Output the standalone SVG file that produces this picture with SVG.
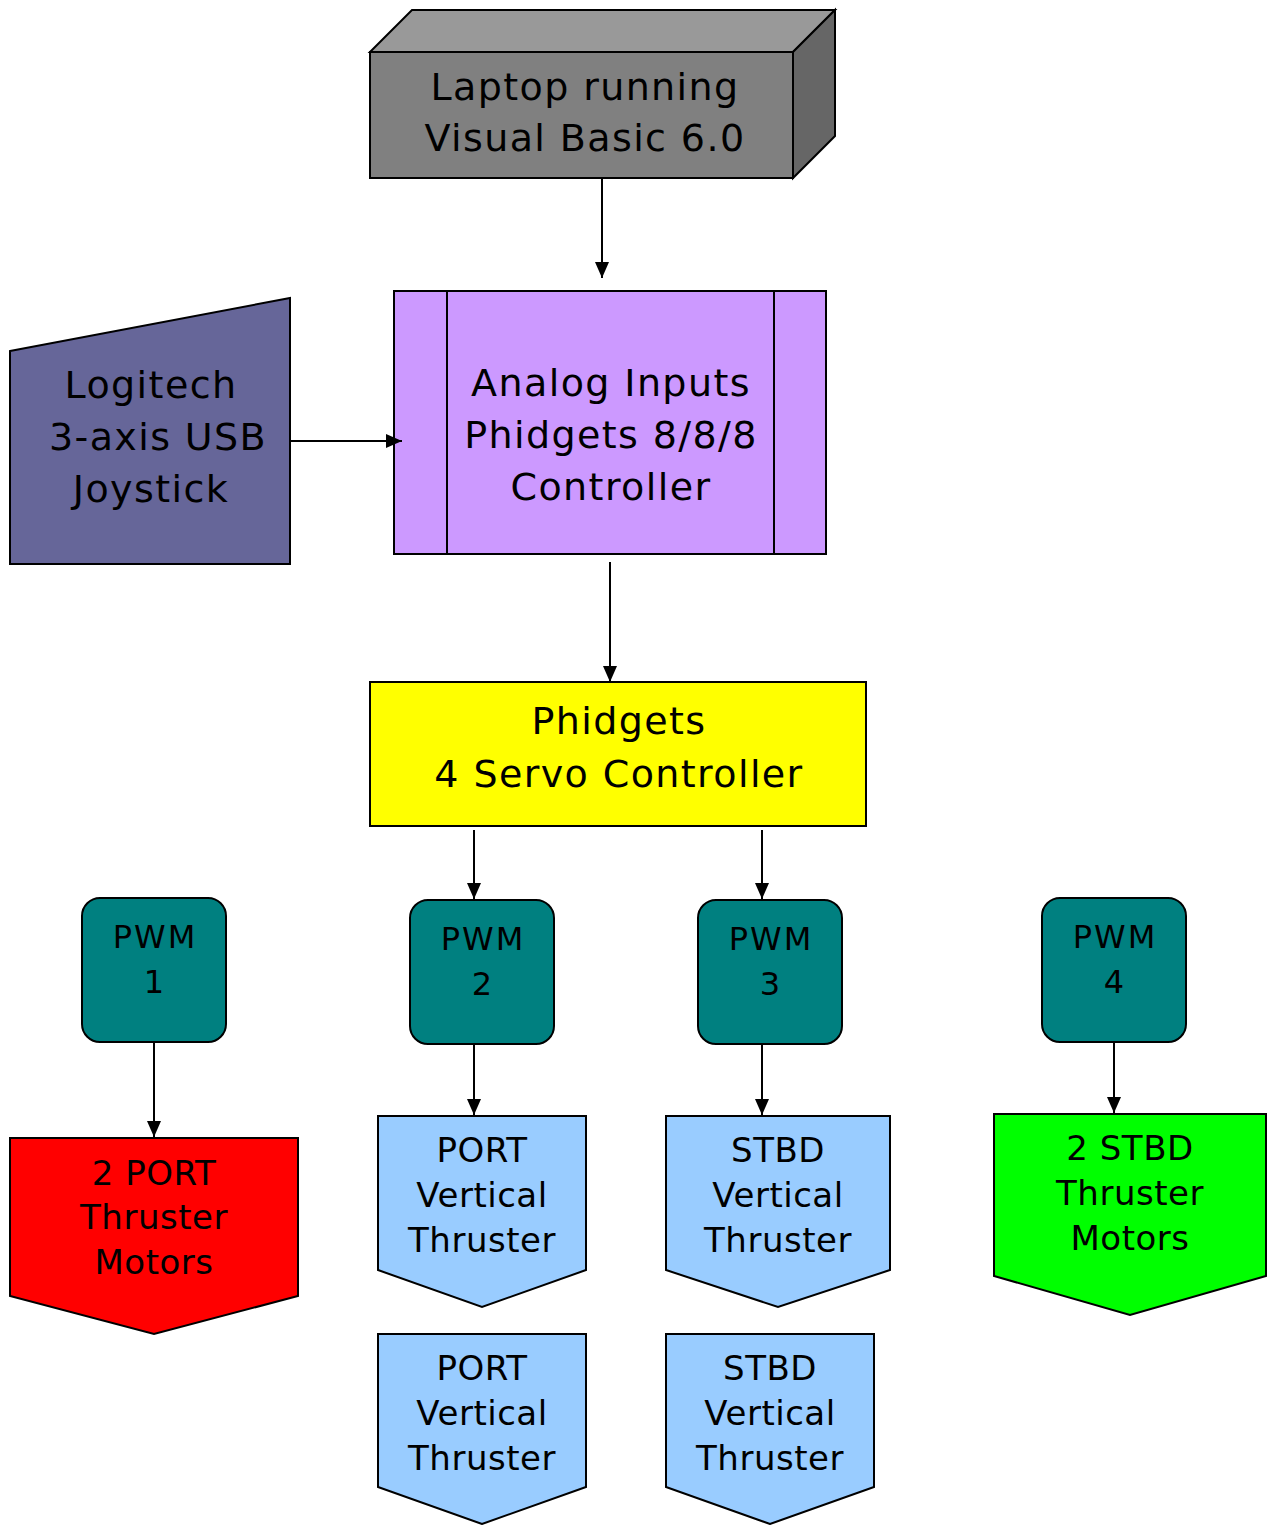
<svg xmlns="http://www.w3.org/2000/svg" width="1273" height="1525" viewBox="0 0 1273 1525">
<style>
.s{stroke:#000;stroke-width:2;stroke-linejoin:miter}
text{font-family:"DejaVu Sans","Liberation Sans",sans-serif;fill:#000;text-anchor:middle}
.L{font-size:38px;letter-spacing:1.4px}
.M{font-size:34px;letter-spacing:0.5px}
.P{font-size:32px;letter-spacing:2px}
.c{stroke:#000;stroke-width:2;fill:none}
</style>
<defs>
<marker id="ah" markerUnits="userSpaceOnUse" markerWidth="16" markerHeight="16" viewBox="0 0 16 16" refX="16" refY="8" orient="auto">
<path d="M0,1 L16,8 L0,15 Z" fill="#000"/>
</marker>
</defs>
<rect width="1273" height="1525" fill="#fff"/>
<g id="laptop">
<polygon class="s" points="370,52 412,10 835,10 793,52" fill="#999999"/>
<polygon class="s" points="793,52 835,10 835,136 793,178" fill="#666666"/>
<rect class="s" x="370" y="52" width="423" height="126" fill="#808080"/>
<text class="L" x="585" y="100">Laptop running</text>
<text class="L" x="585" y="151">Visual Basic 6.0</text>
</g>
<g id="analog">
<rect class="s" x="394" y="291" width="432" height="263" fill="#cc99ff"/>
<line class="s" x1="447" y1="291" x2="447" y2="554"/>
<line class="s" x1="774" y1="291" x2="774" y2="554"/>
<text class="L" x="611" y="396">Analog Inputs</text>
<text class="L" x="611" y="448">Phidgets 8/8/8</text>
<text class="L" x="611" y="500">Controller</text>
</g>
<g id="joystick">
<polygon class="s" points="10,351 290,298 290,564 10,564" fill="#666699"/>
<text class="L" x="151" y="398">Logitech</text>
<text class="L" x="158" y="450">3-axis USB</text>
<text class="L" x="151" y="502">Joystick</text>
</g>
<g id="servo">
<rect class="s" x="370" y="682" width="496" height="144" fill="#ffff00"/>
<text class="L" x="619" y="734">Phidgets</text>
<text class="L" x="619" y="787">4 Servo Controller</text>
</g>
<g id="pwm1">
<rect class="s" x="82" y="898" width="144" height="144" rx="18" fill="#008080"/>
<text class="P" x="155" y="948">PWM</text>
<text class="P" x="155" y="993">1</text>
</g>
<g id="pwm2">
<rect class="s" x="410" y="900" width="144" height="144" rx="18" fill="#008080"/>
<text class="P" x="483" y="950">PWM</text>
<text class="P" x="483" y="995">2</text>
</g>
<g id="pwm3">
<rect class="s" x="698" y="900" width="144" height="144" rx="18" fill="#008080"/>
<text class="P" x="771" y="950">PWM</text>
<text class="P" x="771" y="995">3</text>
</g>
<g id="pwm4">
<rect class="s" x="1042" y="898" width="144" height="144" rx="18" fill="#008080"/>
<text class="P" x="1115" y="948">PWM</text>
<text class="P" x="1115" y="993">4</text>
</g>
<g id="portMotors">
<polygon class="s" points="10,1138 298,1138 298,1296 154,1334 10,1296" fill="#ff0000"/>
<text class="M" x="154" y="1185">2 PORT</text>
<text class="M" x="154" y="1229">Thruster</text>
<text class="M" x="154" y="1274">Motors</text>
</g>
<g id="portVert1">
<polygon class="s" points="378,1116 586,1116 586,1270 482,1307 378,1270" fill="#99ccff"/>
<text class="M" x="482" y="1162">PORT</text>
<text class="M" x="482" y="1207">Vertical</text>
<text class="M" x="482" y="1252">Thruster</text>
</g>
<g id="stbdVert1">
<polygon class="s" points="666,1116 890,1116 890,1270 778,1307 666,1270" fill="#99ccff"/>
<text class="M" x="778" y="1162">STBD</text>
<text class="M" x="778" y="1207">Vertical</text>
<text class="M" x="778" y="1252">Thruster</text>
</g>
<g id="portVert2">
<polygon class="s" points="378,1334 586,1334 586,1487 482,1524 378,1487" fill="#99ccff"/>
<text class="M" x="482" y="1380">PORT</text>
<text class="M" x="482" y="1425">Vertical</text>
<text class="M" x="482" y="1470">Thruster</text>
</g>
<g id="stbdVert2">
<polygon class="s" points="666,1334 874,1334 874,1487 770,1524 666,1487" fill="#99ccff"/>
<text class="M" x="770" y="1380">STBD</text>
<text class="M" x="770" y="1425">Vertical</text>
<text class="M" x="770" y="1470">Thruster</text>
</g>
<g id="stbdMotors">
<polygon class="s" points="994,1114 1266,1114 1266,1276 1130,1315 994,1276" fill="#00ff00"/>
<text class="M" x="1130" y="1160">2 STBD</text>
<text class="M" x="1130" y="1205">Thruster</text>
<text class="M" x="1130" y="1250">Motors</text>
</g>
<g id="connectors">
<line class="c" x1="602" y1="178" x2="602" y2="278" marker-end="url(#ah)"/>
<line class="c" x1="290" y1="441" x2="402" y2="441" marker-end="url(#ah)"/>
<line class="c" x1="610" y1="562" x2="610" y2="682" marker-end="url(#ah)"/>
<line class="c" x1="474" y1="830" x2="474" y2="899" marker-end="url(#ah)"/>
<line class="c" x1="762" y1="830" x2="762" y2="899" marker-end="url(#ah)"/>
<line class="c" x1="154" y1="1042" x2="154" y2="1137" marker-end="url(#ah)"/>
<line class="c" x1="474" y1="1044" x2="474" y2="1115" marker-end="url(#ah)"/>
<line class="c" x1="762" y1="1044" x2="762" y2="1115" marker-end="url(#ah)"/>
<line class="c" x1="1114" y1="1042" x2="1114" y2="1113" marker-end="url(#ah)"/>
</g>
</svg>
